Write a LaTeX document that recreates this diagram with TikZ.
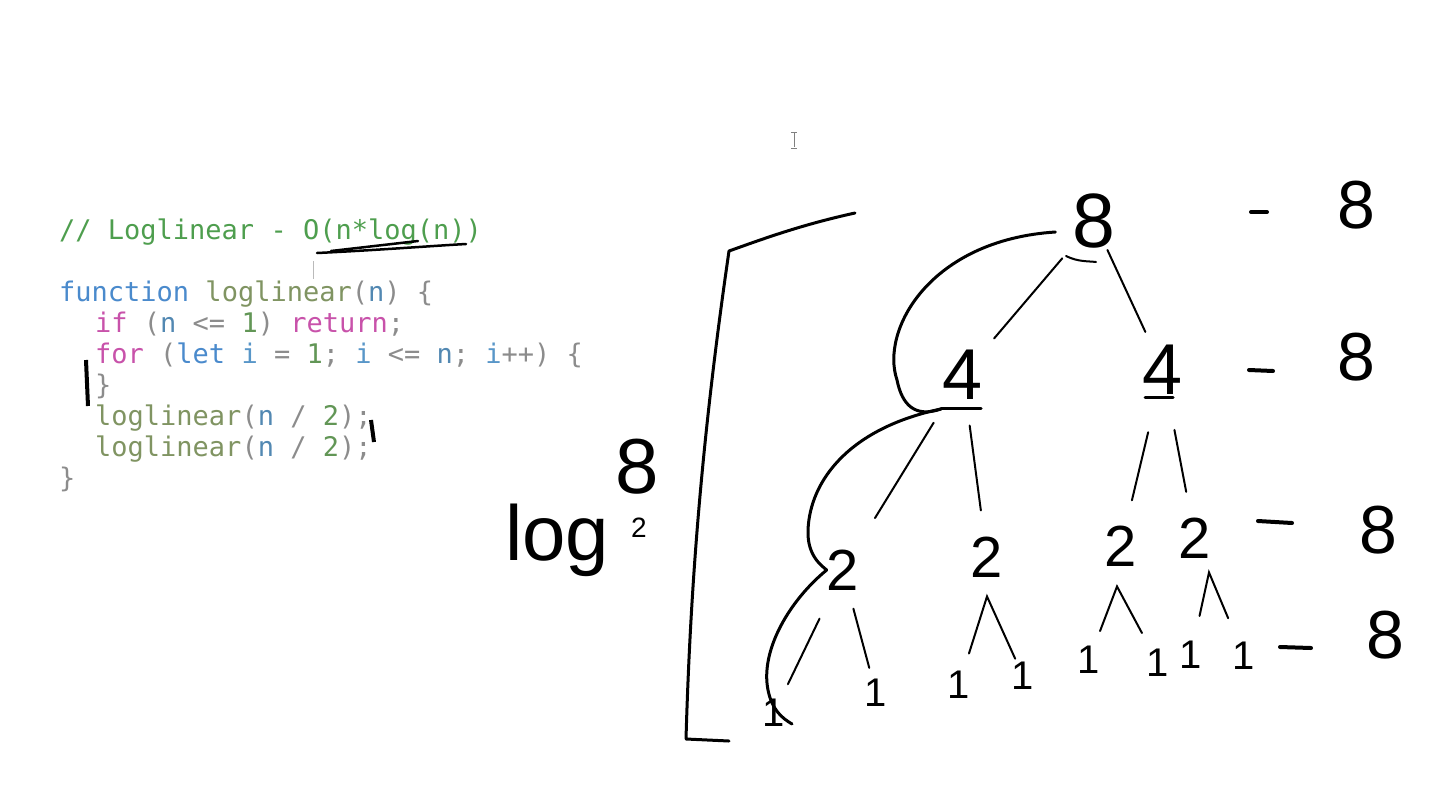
\documentclass[tikz,border=0pt]{standalone}
\usepackage{fontspec}
\newfontfamily\codefont{DejaVu Sans Mono}
\newfontfamily\handfont{Liberation Sans}
\definecolor{cmtgreen}{RGB}{78,158,78}
\definecolor{kwblue}{RGB}{74,138,204}
\definecolor{idblue}{RGB}{88,150,200}
\definecolor{varblue}{RGB}{82,136,178}
\definecolor{fnolive}{RGB}{128,148,98}
\definecolor{kwpink}{RGB}{200,82,170}
\definecolor{numgreen}{RGB}{98,150,86}
\definecolor{punctgray}{RGB}{140,140,140}
\newcommand{\cK}[1]{\textcolor{kwblue}{#1}}
\newcommand{\cI}[1]{\textcolor{idblue}{#1}}
\newcommand{\cV}[1]{\textcolor{varblue}{#1}}
\newcommand{\cF}[1]{\textcolor{fnolive}{#1}}
\newcommand{\cP}[1]{\textcolor{kwpink}{#1}}
\newcommand{\cN}[1]{\textcolor{numgreen}{#1}}
\newcommand{\cG}[1]{\textcolor{punctgray}{#1}}
\tikzset{
  code/.style={anchor=base west, inner sep=0pt, font=\codefont\fontsize{27pt}{31pt}\selectfont},
  hand/.style={inner sep=0pt, font=\handfont\fontsize{#1pt}{#1pt}\selectfont},
  edge/.style={line width=2pt, line cap=round},
  ink/.style={line width=3pt, line cap=round, line join=round},
}
\begin{document}
\begin{tikzpicture}[x=1pt, y=-1pt]
	\useasboundingbox (0,0) rectangle (1437,804);
	% code
	\node[code] (cmt) at (59,239) {\textcolor{cmtgreen}{// Loglinear - O(n*log(n))}};
	\node[code] (fnhead) at (59,301) {\cK{function} \cF{loglinear}\cG{(}\cV{n}\cG{) \{}};
	\node[code] (ifline) at (95,332) {\cP{if} \cG{(}\cV{n} \cG{<=} \cN{1}\cG{)} \cP{return}\cG{;}};
	\node[code] (forline) at (95,363) {\cP{for} \cG{(}\cK{let} \cI{i} \cG{=} \cN{1}\cG{;} \cI{i} \cG{<=} \cV{n}\cG{;} \cI{i}\cG{++) \{}};
	\node[code] (forend) at (95,394) {\cG{\}}};
	\node[code] (callA) at (95,425) {\cF{loglinear}\cG{(}\cV{n} \cG{/} \cN{2}\cG{);}};
	\node[code] (callB) at (95,456) {\cF{loglinear}\cG{(}\cV{n} \cG{/} \cN{2}\cG{);}};
	\node[code] (fnend) at (59,487) {\cG{\}}};
	% marks on the code
	\draw[ink, line width=2.5pt] (317,253) .. controls (380,250) and (430,246) .. (466,244);
	\draw[ink, line width=2.5pt] (331,251) -- (418,241);
	\draw[punctgray!60, line width=1pt] (313,261) -- (313,279);
	\draw[line width=4pt] (86,360) -- (88,406);
	\draw[line width=4pt] (371,420) -- (374,442);
	\draw[gray, line width=1pt] (794,133) -- (794,147) (791,132) -- (797,132) (791,148) -- (797,148);
	% log_2 8
	\node[hand=78, anchor=base west] (logtxt) at (505,560) {log};
	\node[hand=28] (logbase) at (639,528) {2};
	\node[hand=78] (logarg) at (637,467) {8};
	\draw[ink] (855,213) .. controls (800,225) and (760,240) .. (729,251)
		.. controls (700,450) and (690,600) .. (686,739) -- (729,741);
	% tree
	\node[hand=77] (n8) at (1094,221) {8};
	\node[hand=72] (n4a) at (963,375) {4};
	\node[hand=72] (n4b) at (1163,370) {4};
	\node[hand=58] (n2a) at (843,570) {2};
	\node[hand=58] (n2b) at (987,557) {2};
	\node[hand=58] (n2c) at (1121,546) {2};
	\node[hand=58] (n2d) at (1195,538) {2};
	\foreach \i/\x/\y in {1/774/713,2/876/693,3/959/685,4/1023/676,5/1089/660,6/1158/663,7/1191/655,8/1244/656}
		\node[hand=40] (o\i) at (\x,\y) {1};
	\draw[edge, shorten <=49pt, shorten >=48pt] (n8.center) -- (n4a.center);
	\draw[edge, shorten <=32pt, shorten >=42pt] (n8.center) -- (n4b.center);
	\draw[edge] (1066,256) .. controls (1078,262) and (1088,261) .. (1096,262);
	\draw[ink] ([xshift=-22pt,yshift=-9pt]n4a.south) coordinate (b4a) -- ([xshift=18pt,yshift=-9pt]n4a.south);
	\draw[ink] ([xshift=-18pt,yshift=-3pt]n4b.south) -- ([xshift=10pt,yshift=-3pt]n4b.south);
	\draw[edge, shorten <=56pt, shorten >=61pt] (n4a.center) -- (n2a.center);
	\draw[edge, shorten <=51pt, shorten >=47pt] (n4a.center) -- (n2b.center);
	\draw[edge, shorten <=64pt, shorten >=47pt] (n4b.center) -- (n2c.center);
	\draw[edge, shorten <=61pt, shorten >=47pt] (n4b.center) -- (n2d.center);
	\draw[edge, shorten <=54pt, shorten >=32pt] (n2a.center) -- (o1.center);
	\draw[edge, shorten <=40pt, shorten >=26pt] (n2a.center) -- (o2.center);
	\draw[edge, shorten <=33pt, shorten >=19pt] (o3.center) -- ([yshift=-19pt]n2b.south) -- (o4.center);
	\draw[edge, shorten <=31pt, shorten >=34pt] (o5.center) -- ([xshift=-4pt,yshift=-20pt]n2c.south) -- (o6.center);
	\draw[edge, shorten <=40pt, shorten >=41pt] (o7.center) -- ([xshift=14pt,yshift=-14pt]n2d.south) -- (o8.center);
	% path of the calls
	\draw[ink] ([xshift=-17pt,yshift=-11pt]n8.west) .. controls (930,240) and (880,330) .. (897,380)
		.. controls (902,405) and (915,418) .. (b4a);
	\draw[ink] (b4a) .. controls (850,428) and (810,480) .. (808,530)
		.. controls (807,556) and (822,566) .. (n2a.west);
	\draw[ink] (n2a.west) .. controls (790,600) and (760,650) .. (768,690)
		.. controls (772,710) and (782,718) .. (792,724);
	% level sums
	\node[hand=68] (sum1) at (1356,205) {8};
	\node[hand=68] (sum2) at (1356,357) {8};
	\node[hand=68] (sum3) at (1378,530) {8};
	\node[hand=68] (sum4) at (1385,635) {8};
	\draw[ink, line width=4pt] (1251,212) -- (1267,212);
	\draw[ink, line width=4pt] (1249,370) -- (1273,371);
	\draw[ink, line width=4pt] (1258,521) -- (1292,523);
	\draw[ink, line width=4pt] (1280,647) -- (1311,648);
\end{tikzpicture}
\end{document}
